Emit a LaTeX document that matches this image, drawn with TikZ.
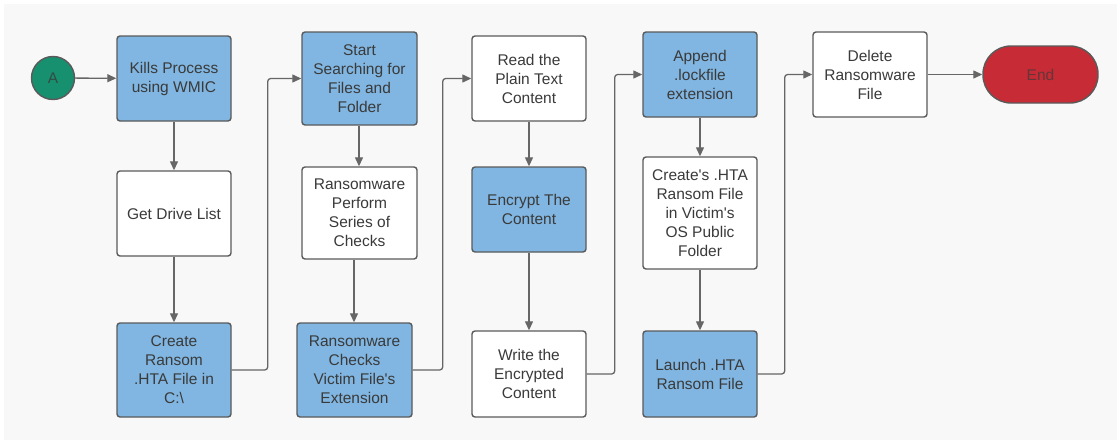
\documentclass[tikz,border=0pt]{standalone}
\usepackage{fontspec}
\setmainfont{Liberation Sans}
\usetikzlibrary{arrows.meta}
\definecolor{bg}{HTML}{F8F8F8}
\definecolor{lblue}{HTML}{80B6E1}
\definecolor{edge}{HTML}{5A5A5A}
\definecolor{txt}{HTML}{3A3A3A}
\definecolor{lred}{HTML}{C72B35}
\definecolor{teal}{HTML}{17906F}
\definecolor{conn}{HTML}{666666}
\tikzset{
  box/.style={draw=edge, line width=1.4pt, rounded corners=3pt, align=center,
    text=txt, font=\fontsize{15.5}{19}\selectfont, inner sep=2pt},
  bluebox/.style={box, fill=lblue},
  whitebox/.style={box, fill=white},
  arr/.style={draw=conn, line width=1.3pt, rounded corners=3pt,
    -{Triangle[length=9pt,width=8pt]}},
}
\begin{document}
\begin{tikzpicture}[x=1pt,y=-1pt]
\useasboundingbox (0,0) rectangle (1119,442);
\fill[white] (0,0) rectangle (1119,442);
\fill[bg] (4,4) rectangle (1117,440);

\node[circle, draw=edge, line width=1.4pt, fill=teal, minimum size=43pt, inner sep=0pt,
  text=txt!80!teal, font=\fontsize{15.5}{19}\selectfont] (a) at (53,78) {A};

\node[bluebox, minimum width=114pt, minimum height=85pt] (kill) at (174,78.5) {Kills Process\\using WMIC};
\node[whitebox, minimum width=114pt, minimum height=85pt] (drive) at (174,213.5) {Get Drive List};
\node[bluebox, minimum width=114pt, minimum height=94pt] (create) at (174,370) {Create\\Ransom\\.HTA File in\\C:\textbackslash};

\node[bluebox, minimum width=115pt, minimum height=93pt] (start) at (359.5,78.5) {Start\\Searching for\\Files and\\Folder};
\node[whitebox, minimum width=115pt, minimum height=92pt] (perform) at (359.5,213) {Ransomware\\Perform\\Series of\\Checks};
\node[bluebox, minimum width=115pt, minimum height=94pt] (checks) at (354.5,370) {Ransomware\\Checks\\Victim File\textquotesingle s\\Extension};

\node[whitebox, minimum width=114pt, minimum height=85pt] (read) at (529,78.5) {Read the\\Plain Text\\Content};
\node[bluebox, minimum width=114pt, minimum height=85pt] (encrypt) at (529,209.5) {Encrypt The\\Content};
\node[whitebox, minimum width=114pt, minimum height=86pt] (write) at (529,374) {Write the\\Encrypted\\Content};

\node[bluebox, minimum width=114pt, minimum height=85pt] (append) at (700,74.5) {Append\\.lockfile\\extension};
\node[whitebox, minimum width=114pt, minimum height=112pt] (hta) at (700,213) {Create\textquotesingle s .HTA\\Ransom File\\in Victim\textquotesingle s\\OS Public\\Folder};
\node[bluebox, minimum width=114pt, minimum height=86pt] (launch) at (700,374) {Launch .HTA\\Ransom File};

\node[whitebox, minimum width=114pt, minimum height=85pt] (delete) at (870,74.5) {Delete\\Ransomware\\File};
\node[box, fill=lred, rounded corners=28pt, minimum width=115pt, minimum height=57pt,
  text=txt!70!lred] (end) at (1040.5,74.5) {End};

\draw[arr] (a) -- (kill);
\draw[arr] (kill) -- (drive);
\draw[arr] (drive) -- (create);
\draw[arr] (create.east) -- ++(36,0) |- (start.west);
\draw[arr] (start.south -| 359,0) -- (perform.north -| 359,0);
\draw[arr] (perform.south -| 354,0) -- (checks.north -| 354,0);
\draw[arr] (checks.east) -- ++(30,0) |- (read.west);
\draw[arr] (read) -- (encrypt);
\draw[arr] (encrypt) -- (write);
\draw[arr] (write.east) -- ++(28,0) |- (append.west);
\draw[arr] (append) -- (hta);
\draw[arr] (hta) -- (launch);
\draw[arr] (launch.east) -- ++(27,0) |- (delete.west);
\draw[arr] (delete) -- (end);
\end{tikzpicture}
\end{document}
